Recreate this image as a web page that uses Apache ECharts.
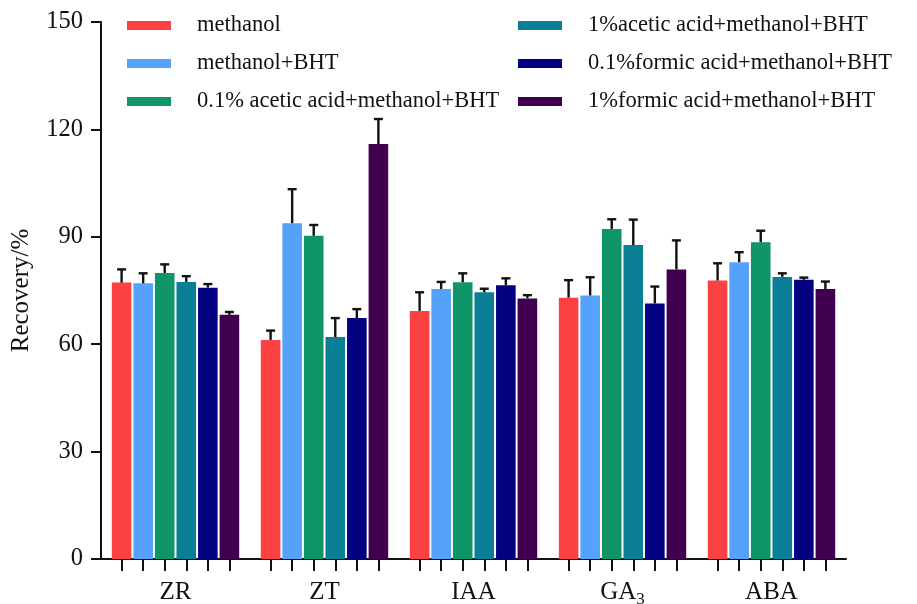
<!DOCTYPE html>
<html>
<head>
<meta charset="utf-8">
<title>Recovery</title>
<script src="https://cdn.jsdelivr.net/npm/echarts@6/dist/echarts.min.js"></script>
<style>
  html, body { margin: 0; padding: 0; background: #fff; }
  #chart { width: 917px; height: 604px; }
</style>
</head>
<body>
<div id="chart"></div>
<script>
// categories and series (recovery %, mean and SD)
const categories = ['ZR', 'ZT', 'IAA', 'GA3', 'ABA'];
const seriesNames = [
  'methanol',
  'methanol+BHT',
  '0.1% acetic acid+methanol+BHT',
  '1%acetic acid+methanol+BHT',
  '0.1%formic acid+methanol+BHT',
  '1%formic acid+methanol+BHT'
];
const methanol        = [77.2, 61.2, 69.3, 73.0, 77.8];
const methanolErr     = [3.7, 2.6, 5.2, 4.9, 4.8];
const methanolBHT     = [77.0, 93.8, 75.4, 73.6, 82.9];
const methanolBHTErr  = [2.8, 9.5, 2.0, 5.1, 2.8];
const acetic01        = [79.9, 90.3, 77.3, 92.2, 88.5];
const acetic01Err     = [2.4, 3.0, 2.5, 2.7, 3.2];
const acetic1         = [77.4, 62.0, 74.5, 87.7, 78.8];
const acetic1Err      = [1.6, 5.3, 1.0, 7.1, 1.0];
const formic01        = [75.8, 67.3, 76.5, 71.4, 78.0];
const formic01Err     = [1.0, 2.5, 1.9, 4.7, 0.6];
const formic1         = [68.2, 115.9, 72.8, 80.9, 75.4];
const formic1Err      = [0.8, 7.0, 0.9, 8.1, 2.1];
const yTicks = [0, 30, 60, 90, 120, 150];

const means = [methanol, methanolBHT, acetic01, acetic1, formic01, formic1];
const errs = [methanolErr, methanolBHTErr, acetic01Err, acetic1Err, formic01Err, formic1Err];
const colors = ['#fc4143', '#56a1fb', '#0f9567', '#0a7e94', '#030180', '#40004f'];

const FONT = "'Liberation Serif', 'Times New Roman', serif";
const BAR_W = 19.6;
const BAR_GAP = 0.1;
const PITCH = BAR_W * (1 + BAR_GAP);
const BAND = 745 / categories.length;

// tick positions under every bar, on a 0..5 value axis sharing the grid
const barTicks = [];
categories.forEach((c, k) => {
  for (let i = 0; i < seriesNames.length; i++) {
    barTicks.push(k + 0.5 + (i - 2.5) * PITCH / BAND);
  }
});

const chart = echarts.init(document.getElementById('chart'));

const series = [];
means.forEach((arr, s) => {
  series.push({
    name: seriesNames[s],
    type: 'bar',
    data: arr,
    barWidth: BAR_W,
    barGap: (BAR_GAP * 100) + '%',
    itemStyle: { color: colors[s] }
  });
});
// error bars (upper only)
means.forEach((arr, s) => {
  series.push({
    type: 'custom',
    name: seriesNames[s] + ' SD',
    z: 5,
    silent: true,
    data: arr.map((m, c) => [c, m, errs[s][c]]),
    encode: { x: 0, y: 1 },
    renderItem: function (params, api) {
      const c = api.value(0), m = api.value(1), e = api.value(2);
      const p = api.coord([c, m]);
      const t = api.coord([c, m + e]);
      const x = p[0] + (s - 2.5) * PITCH;
      const st = { stroke: '#111', lineWidth: 2.4 };
      return {
        type: 'group',
        children: [
          { type: 'line', shape: { x1: x, y1: p[1], x2: x, y2: t[1] }, style: st },
          { type: 'line', shape: { x1: x - 4.5, y1: t[1], x2: x + 4.5, y2: t[1] }, style: st }
        ]
      };
    }
  });
});

const legendText = {
  fontFamily: FONT, fontSize: 22.5, color: '#111', lineHeight: 22, padding: [0, 0, 0, 21]
};

chart.setOption({
  animation: false,
  backgroundColor: '#fff',
  color: colors,
  grid: { left: 101, top: 22, width: 745, height: 537, outerBoundsMode: 'none', containLabel: false },
  legend: [
    {
      data: seriesNames.slice(0, 3),
      orient: 'vertical', left: 127, top: 14, padding: 0,
      itemWidth: 44, itemHeight: 9, itemGap: 15,
      icon: 'rect', textStyle: legendText
    },
    {
      data: seriesNames.slice(3),
      orient: 'vertical', left: 518, top: 14, padding: 0,
      itemWidth: 44, itemHeight: 9, itemGap: 15,
      icon: 'rect', textStyle: legendText
    }
  ],
  xAxis: [
    {
      type: 'category',
      data: categories,
      axisLine: { lineStyle: { color: '#111', width: 2 } },
      axisTick: { show: false },
      axisLabel: {
        fontFamily: FONT, fontSize: 25, color: '#111', margin: 17, lineHeight: 32,
        formatter: v => v === 'GA3' ? 'GA{sub|3}' : v,
        rich: {
          sub: { fontFamily: FONT, fontSize: 17, color: '#111', lineHeight: 16, verticalAlign: 'bottom' }
        }
      }
    },
    {
      type: 'value',
      position: 'bottom',
      min: 0, max: categories.length,
      axisLine: { show: false },
      axisLabel: { show: false },
      splitLine: { show: false },
      axisTick: {
        show: true, length: 12, customValues: barTicks,
        lineStyle: { color: '#111', width: 2 }
      }
    }
  ],
  yAxis: {
    type: 'value',
    min: 0, max: 150, interval: 30,
    name: 'Recovery/%',
    nameLocation: 'middle',
    nameGap: 67,
    nameTextStyle: { fontFamily: FONT, fontSize: 25, color: '#111' },
    axisLine: { show: true, lineStyle: { color: '#111', width: 2 } },
    axisTick: { show: true, length: 10, lineStyle: { color: '#111', width: 2 } },
    axisLabel: {
      fontFamily: FONT, fontSize: 24.5, color: '#111', margin: 18,
      customValues: yTicks
    },
    splitLine: { show: false }
  },
  series: series
});
</script>
</body>
</html>
